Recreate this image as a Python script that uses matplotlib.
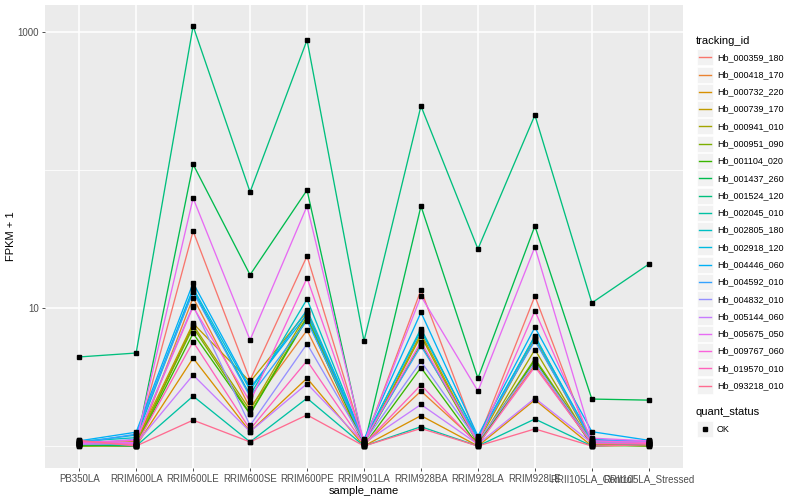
import matplotlib
matplotlib.use('Agg')
import matplotlib.pyplot as plt
from matplotlib.lines import Line2D
from matplotlib.patches import Rectangle

plt.rcParams['font.family'] = ['Liberation Sans', 'DejaVu Sans']

# x categories
samples = ['PB350LA', 'RRIM600LA', 'RRIM600LE', 'RRIM600SE', 'RRIM600PE', 'RRIM901LA',
           'RRIM928BA', 'RRIM928LA', 'RRIM928LE', 'RRII105LA_Control', 'RRII105LA_Stressed']

tracking_ids = ['Hb_000359_180', 'Hb_000418_170', 'Hb_000732_220', 'Hb_000739_170',
                'Hb_000941_010', 'Hb_000951_090', 'Hb_001104_020', 'Hb_001437_260',
                'Hb_001524_120', 'Hb_002045_010', 'Hb_002805_180', 'Hb_002918_120',
                'Hb_004446_060', 'Hb_004592_010', 'Hb_004832_010', 'Hb_005144_060',
                'Hb_005675_050', 'Hb_009767_060', 'Hb_019570_010', 'Hb_093218_010']

# FPKM + 1 per gene, one value per sample
hb_000359_180 = [1.10, 1.05, 36.1, 3.00, 23.8, 1.05, 13.5, 1.10, 12.2, 1.00, 1.08]
hb_000418_170 = [1.02, 1.00, 11.9, 1.89, 6.90, 1.02, 2.50, 1.05, 3.85, 1.03, 1.00]
hb_000732_220 = [1.00, 1.00, 4.34, 1.27, 3.10, 1.00, 1.66, 1.00, 2.16, 1.00, 1.02]
hb_000739_170 = [1.03, 1.08, 7.74, 2.92, 9.40, 1.04, 6.55, 1.06, 6.00, 1.05, 1.04]
hb_000941_010 = [1.01, 1.02, 7.53, 1.82, 9.20, 1.03, 6.30, 1.02, 5.00, 1.02, 1.01]
hb_000951_090 = [1.04, 1.03, 7.25, 1.72, 8.70, 1.06, 5.50, 1.04, 4.30, 1.06, 1.03]
hb_001104_020 = [1.00, 1.01, 6.55, 1.70, 8.40, 1.01, 3.70, 1.01, 4.20, 1.01, 1.00]
hb_001437_260 = [1.02, 1.00, 110.0, 17.4, 71.6, 1.00, 54.8, 3.10, 39.3, 2.19, 2.15]
hb_001524_120 = [4.42, 4.72, 1104.0, 69.3, 875.0, 5.77, 291.0, 26.8, 250.0, 10.9, 20.8]
hb_002045_010 = [1.06, 1.00, 2.30, 1.07, 2.22, 1.00, 1.38, 1.00, 1.57, 1.00, 1.03]
hb_002805_180 = [1.08, 1.15, 13.5, 2.34, 11.6, 1.08, 7.10, 1.12, 6.30, 1.08, 1.06]
hb_002918_120 = [1.07, 1.20, 13.9, 2.55, 9.70, 1.10, 6.85, 1.15, 6.20, 1.12, 1.07]
hb_004446_060 = [1.09, 1.26, 15.2, 2.63, 9.00, 1.12, 9.30, 1.18, 7.25, 1.27, 1.10]
hb_004592_010 = [1.05, 1.22, 13.1, 2.28, 8.10, 1.09, 5.30, 1.14, 5.80, 1.10, 1.09]
hb_004832_010 = [1.04, 1.12, 10.4, 1.41, 5.50, 1.07, 4.10, 1.08, 4.00, 1.07, 1.08]
hb_005144_060 = [1.03, 1.04, 3.27, 1.27, 2.83, 1.05, 2.00, 1.03, 2.22, 1.05, 1.05]
hb_005675_050 = [1.05, 1.06, 62.6, 5.87, 54.8, 1.06, 12.2, 2.50, 27.7, 1.14, 1.09]
hb_009767_060 = [1.06, 1.10, 10.2, 2.09, 16.5, 1.08, 5.70, 1.07, 9.55, 1.09, 1.06]
hb_019570_010 = [1.08, 1.02, 5.70, 1.32, 4.15, 1.03, 2.77, 1.02, 3.75, 1.04, 1.04]
hb_093218_010 = [1.10, 1.00, 1.54, 1.07, 1.68, 1.00, 1.34, 1.00, 1.33, 1.00, 1.02]

series = [hb_000359_180, hb_000418_170, hb_000732_220, hb_000739_170, hb_000941_010,
          hb_000951_090, hb_001104_020, hb_001437_260, hb_001524_120, hb_002045_010,
          hb_002805_180, hb_002918_120, hb_004446_060, hb_004592_010, hb_004832_010,
          hb_005144_060, hb_005675_050, hb_009767_060, hb_019570_010, hb_093218_010]

y_major = [10, 1000]
y_minor = [1, 100]

# ggplot2 default hue palette for 20 groups
colors = ['#F8766D', '#EA8331', '#D89000', '#C09B00', '#A3A500', '#7CAE00', '#39B600',
          '#00BB4E', '#00BF7D', '#00C1A3', '#00BFC4', '#00BAE0', '#00B0F6', '#35A2FF',
          '#9590FF', '#C77CFF', '#E76BF3', '#FA62DB', '#FF62BC', '#FF6C91']

W, H = 800, 500


def fx(x):
    return x / W


def fy(y):
    return 1 - y / H


fig = plt.figure(figsize=(8, 5), dpi=100)
fig.patch.set_facecolor('white')
ax = fig.add_axes([fx(45), fy(468), (683 - 45) / W, (468 - 5) / H])
ax.set_facecolor('#EBEBEB')
for s in ax.spines.values():
    s.set_visible(False)

xpos = list(range(len(samples)))
for vals, c in zip(series, colors):
    ax.plot(xpos, vals, color=c, lw=0.95, zorder=2)
for vals in series:
    ax.plot(xpos, vals, linestyle='none', marker='s', ms=2.6, color='black', zorder=3)

ax.set_yscale('log')
ax.set_ylim(0.693, 1570)
ax.set_xlim(-0.6, len(samples) - 0.4)
ax.set_yticks(y_major)
ax.set_yticklabels([str(v) for v in y_major])
ax.set_yticks(y_minor, minor=True)
ax.set_yticklabels([], minor=True)
ax.set_xticks(xpos)
ax.set_xticklabels(samples)

ax.grid(which='major', color='white', lw=1.1)
ax.grid(which='minor', axis='y', color='white', lw=0.55)
ax.set_axisbelow(True)
ax.tick_params(which='major', length=2.5, width=0.6, color='#333333',
               labelsize=7, labelcolor='#4D4D4D', pad=2)
ax.tick_params(which='minor', length=0)

ax.set_xlabel('sample_name', fontsize=8, labelpad=1)
ax.set_ylabel('FPKM + 1', fontsize=8, labelpad=1)

# legend: tracking_id
fig.text(fx(696), fy(40.5), 'tracking_id', fontsize=8, va='center', ha='left')
step = 17.28
for i, (name, c) in enumerate(zip(tracking_ids, colors)):
    yc = 57.3 + i * step
    fig.patches.append(Rectangle((fx(697), fy(yc + 8)), 16 / W, 16 / H,
                                 transform=fig.transFigure, facecolor='#F2F2F2',
                                 edgecolor='white', lw=0.5))
    fig.add_artist(Line2D([fx(699), fx(711)], [fy(yc), fy(yc)], color=c, lw=1.0,
                          transform=fig.transFigure))
    fig.text(fx(717), fy(yc), name, fontsize=6.5, va='center', ha='left')

# legend: quant_status
fig.text(fx(696), fy(412), 'quant_status', fontsize=8, va='center', ha='left')
fig.patches.append(Rectangle((fx(697), fy(437)), 16 / W, 16 / H,
                             transform=fig.transFigure, facecolor='#F2F2F2',
                             edgecolor='white', lw=0.5))
fig.add_artist(Line2D([fx(705)], [fy(429)], marker='s', ms=2.6, color='black',
                      linestyle='none', transform=fig.transFigure))
fig.text(fx(717), fy(429), 'OK', fontsize=6.5, va='center', ha='left')

fig.savefig('out.png', dpi=100, facecolor='white')
